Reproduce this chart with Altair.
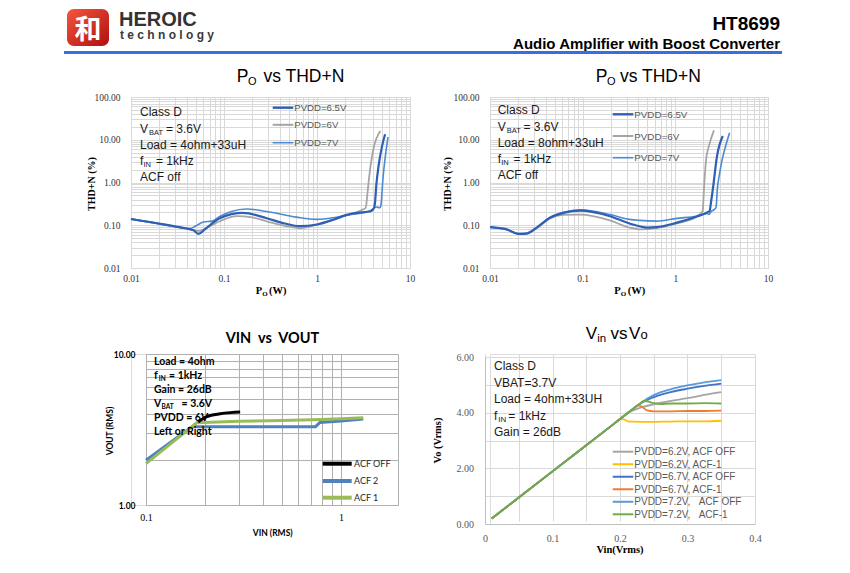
import altair as alt
import pandas as pd

SANS = "Liberation Sans"
SERIF = "Liberation Serif"
LATO = "Lato"
CJK = "Noto Sans CJK SC"

# ================= DATA =================
# Panel 1: PO vs THD+N, Load = 4ohm+33uH
p1_names = ["PVDD=6.5V", "PVDD=6V", "PVDD=7V"]
p1_x_6v = [0.01, 0.0223, 0.035, 0.047, 0.055, 0.07, 0.09, 0.137, 0.2, 0.288, 0.45, 0.66, 1.0, 1.5, 2.08, 3.0, 3.34, 3.5, 3.63, 4.0, 4.8]
p1_y_6v = [0.14, 0.104, 0.088, 0.077, 0.074, 0.095, 0.124, 0.163, 0.152, 0.124, 0.097, 0.085, 0.104, 0.135, 0.171, 0.225, 0.257, 0.6, 1.3, 5.45, 16.0]
p1_x_65v = [0.01, 0.0223, 0.035, 0.047, 0.053, 0.065, 0.09, 0.16, 0.288, 0.45, 0.65, 1.0, 1.5, 2.08, 3.0, 3.7, 4.0, 4.18, 4.35, 4.6, 5.0, 5.4]
p1_y_65v = [0.14, 0.105, 0.088, 0.076, 0.063, 0.087, 0.146, 0.195, 0.146, 0.11, 0.095, 0.104, 0.135, 0.175, 0.2, 0.21, 0.23, 0.3, 0.9, 2.5, 7.0, 13.4]
p1_x_7v = [0.01, 0.0223, 0.043, 0.05, 0.06, 0.075, 0.09, 0.12, 0.175, 0.288, 0.6, 0.99, 1.5, 2.08, 3.0, 3.7, 4.35, 4.73, 4.85, 5.13, 5.8]
p1_y_7v = [0.14, 0.105, 0.084, 0.097, 0.119, 0.125, 0.16, 0.21, 0.24, 0.21, 0.155, 0.137, 0.15, 0.171, 0.195, 0.215, 0.267, 0.257, 0.28, 1.3, 11.6]

# Panel 2: PO vs THD+N, Load = 8ohm+33uH
p2_x_6v = [0.01, 0.0151, 0.0202, 0.0249, 0.0319, 0.0444, 0.062, 0.094, 0.197, 0.32, 0.41, 0.63, 1.04, 1.71, 1.97, 2.05, 2.14, 2.3, 2.61]
p2_y_6v = [0.09, 0.08, 0.064, 0.064, 0.085, 0.145, 0.175, 0.178, 0.13, 0.088, 0.08, 0.086, 0.11, 0.16, 0.215, 0.9, 3.2, 7.0, 16.6]
p2_x_65v = [0.01, 0.0151, 0.0202, 0.0249, 0.0319, 0.0444, 0.062, 0.094, 0.197, 0.32, 0.5, 0.63, 1.04, 1.71, 2.0, 2.2, 2.34, 2.45, 2.58, 2.8, 3.25]
p2_y_65v = [0.09, 0.08, 0.063, 0.064, 0.088, 0.15, 0.195, 0.22, 0.163, 0.11, 0.088, 0.09, 0.115, 0.16, 0.18, 0.2, 0.215, 0.4, 0.91, 3.8, 12.2]
p2_x_7v = [0.01, 0.0151, 0.0202, 0.0249, 0.0319, 0.0444, 0.062, 0.094, 0.197, 0.32, 0.41, 0.63, 1.04, 1.71, 2.0, 2.19, 2.3, 2.44, 2.6, 2.75, 2.84, 3.0, 3.18, 3.45, 3.85]
p2_y_7v = [0.09, 0.08, 0.063, 0.065, 0.088, 0.152, 0.2, 0.23, 0.178, 0.137, 0.13, 0.125, 0.145, 0.165, 0.18, 0.19, 0.18, 0.21, 0.23, 0.26, 0.7, 1.6, 3.2, 6.5, 14.6]

# Panel 3: VIN vs VOUT
p3_names = ["ACF OFF", "ACF 2", "ACF 1"]
p3_x_acf2 = [0.1, 0.172, 0.19, 0.4, 0.74, 0.78, 1.0, 1.3]
p3_y_acf2 = [1.98, 3.3, 3.3, 3.3, 3.3, 3.52, 3.6, 3.71]
p3_x_acf1 = [0.1, 0.182, 0.3, 0.5, 0.8, 1.0, 1.3]
p3_y_acf1 = [1.88, 3.5, 3.58, 3.63, 3.68, 3.72, 3.78]
p3_x_off = [0.185, 0.205, 0.24, 0.27, 0.304]
p3_y_off = [3.55, 3.85, 4.02, 4.09, 4.13]

# Panel 4: Vin vs Vo
p4_names = ["PVDD=6.2V, ACF OFF", "PVDD=6.2V, ACF-1", "PVDD=6.7V, ACF OFF",
            "PVDD=6.7V, ACF-1", "PVDD=7.2V,\u00a0\u00a0\u00a0ACF OFF", "PVDD=7.2V,\u00a0\u00a0\u00a0ACF-1"]
p4_x_62off = [0.01, 0.1, 0.19, 0.2, 0.215, 0.23, 0.25, 0.275, 0.3, 0.325, 0.35]
p4_y_62off = [0.2, 1.89, 3.58, 3.77, 4.03, 4.18, 4.3, 4.42, 4.52, 4.64, 4.74]
p4_x_62acf = [0.01, 0.1, 0.19, 0.2, 0.205, 0.212, 0.22, 0.25, 0.275, 0.3, 0.325, 0.35]
p4_y_62acf = [0.2, 1.89, 3.58, 3.77, 3.76, 3.69, 3.68, 3.67, 3.68, 3.69, 3.69, 3.71]
p4_x_67off = [0.01, 0.1, 0.19, 0.2, 0.21, 0.22, 0.23, 0.24, 0.25, 0.275, 0.3, 0.325, 0.35]
p4_y_67off = [0.2, 1.89, 3.58, 3.77, 3.96, 4.15, 4.33, 4.46, 4.56, 4.74, 4.86, 4.96, 5.04]
p4_x_67acf = [0.01, 0.1, 0.19, 0.2, 0.21, 0.22, 0.226, 0.232, 0.24, 0.25, 0.275, 0.3, 0.325, 0.35]
p4_y_67acf = [0.2, 1.89, 3.58, 3.77, 3.96, 4.15, 4.26, 4.22, 4.08, 4.05, 4.05, 4.06, 4.06, 4.07]
p4_x_72off = [0.01, 0.1, 0.19, 0.2, 0.21, 0.22, 0.23, 0.24, 0.25, 0.275, 0.3, 0.325, 0.35]
p4_y_72off = [0.2, 1.89, 3.58, 3.77, 3.96, 4.15, 4.33, 4.5, 4.63, 4.84, 4.98, 5.09, 5.17]
p4_x_72acf = [0.01, 0.1, 0.19, 0.2, 0.21, 0.22, 0.23, 0.235, 0.24, 0.25, 0.26, 0.275, 0.3, 0.325, 0.35]
p4_y_72acf = [0.2, 1.89, 3.58, 3.77, 3.96, 4.15, 4.33, 4.42, 4.41, 4.34, 4.31, 4.33, 4.33, 4.34, 4.33]

# ================= HELPERS =================
def one():
    return pd.DataFrame({"k": [0]})


def text(s, x, y, o, size, font=SANS, weight="normal", color="#000000",
         align="left", baseline="alphabetic", angle=0):
    props = dict(align=align, baseline=baseline, fontSize=size, font=font,
                 fontWeight=weight, color=color)
    if angle:
        props["angle"] = angle
    return alt.Chart(pd.DataFrame({"t": [s]})).mark_text(**props).encode(
        text="t:N", x=alt.value(x - o[0]), y=alt.value(y - o[1]))


def hrule(x1, x2, y, o, color, width):
    return alt.Chart(one()).mark_rule(color=color, strokeWidth=width).encode(
        x=alt.value(x1 - o[0]), x2=alt.value(x2 - o[0]), y=alt.value(y - o[1]))


def series(xs, ys, color, width, X, Y, interp="monotone"):
    d = pd.DataFrame({"x": xs, "y": ys, "i": list(range(len(xs)))})
    return alt.Chart(d).mark_line(color=color, strokeWidth=width, interpolate=interp).encode(
        x=X, y=Y, order="i:Q")


def log_values(lo, hi):
    vals = []
    for e in range(lo, hi):
        for k in range(1, 10):
            vals.append(round(k * 10 ** e, 6))
    vals.append(round(10 ** hi, 6))
    return vals


GRID = "#d9d9d9"
EXPR_LOGX = "indexof(['0.01','0.1','1','10'], format(datum.value, '~g')) >= 0 ? format(datum.value, '~g') : ''"
EXPR_LOGY = "indexof(['0.01','0.1','1','10','100'], format(datum.value, '~g')) >= 0 ? format(datum.value, '.2f') : ''"


def thd_axes():
    ax = alt.Axis(values=log_values(-2, 1), labelExpr=EXPR_LOGX, grid=True, gridColor=GRID,
                  domain=False, ticks=False, tickSize=0, labelFont=SERIF, labelFontSize=9.5,
                  labelColor="#333333", labelPadding=5, labelFlush=False, labelOverlap=False, title=None)
    ay = alt.Axis(values=log_values(-2, 2), labelExpr=EXPR_LOGY, grid=True, gridColor=GRID,
                  domain=False, ticks=False, tickSize=0, labelFont=SERIF, labelFontSize=9.5,
                  labelColor="#333333", labelPadding=11, labelOverlap=False, title=None)
    X = alt.X("x:Q", scale=alt.Scale(type="log", domain=[0.01, 10], nice=False), axis=ax)
    Y = alt.Y("y:Q", scale=alt.Scale(type="log", domain=[0.01, 100], nice=False), axis=ay)
    return X, Y


C_65 = "#2f5fb3"
C_6 = "#a5a5a5"
C_7 = "#4a8ad4"

# ================= PANEL 1 =================
O1 = (131, 96)
X1, Y1 = thd_axes()
p1_layers = [
    series(p1_x_6v, p1_y_6v, C_6, 1.8, X1, Y1),
    series(p1_x_7v, p1_y_7v, C_7, 1.6, X1, Y1),
    series(p1_x_65v, p1_y_65v, C_65, 2.2, X1, Y1),
]
p1_layers += [
    text("P", 236.7, 80.7, O1, 17.5),
    text("O", 248.0, 83.5, O1, 11),
    text("vs THD+N", 263.5, 80.7, O1, 17.5),
]
ax_ = 140
p1_layers += [
    text("Class D", ax_, 115, O1, 12, color="#1a1a1a"),
    text("V", ax_, 131.5, O1, 12, color="#1a1a1a"),
    text("BAT", 149, 133.5, O1, 7.5, color="#1a1a1a"),
    text("= 3.6V", 166, 131.5, O1, 12, color="#1a1a1a"),
    text("Load = 4ohm+33uH", ax_, 147.5, O1, 12, color="#1a1a1a"),
    text("f", ax_, 163.5, O1, 12, color="#1a1a1a"),
    text("IN", 143.5, 165.5, O1, 7.5, color="#1a1a1a"),
    text("= 1kHz", 156, 163.5, O1, 12, color="#1a1a1a"),
    text("ACF off", ax_, 180, O1, 12, color="#1a1a1a"),
]
for nm, col, w, yy in zip(p1_names, [C_65, C_6, C_7], [2.4, 2.0, 1.6], [106.7, 123.8, 141.7]):
    p1_layers.append(hrule(272.7, 293.3, yy, O1, col, w))
    p1_layers.append(text(nm, 294.3, yy + 3.4, O1, 9.6, color="#595959"))
p1_layers += [
    text("THD+N (%)", 91.7, 183, O1, 10, font=SERIF, weight="bold", align="center", baseline="middle", angle=270),
    text("P", 255.7, 292.5, O1, 10.5, font=SERIF, weight="bold"),
    text("O", 262.2, 294.5, O1, 7, font=SERIF, weight="bold"),
    text("(W)", 269.0, 292.5, O1, 10.5, font=SERIF, weight="bold"),
]
# page header
grad = alt.LinearGradient(gradient="linear",
                          stops=[alt.GradientStop(color="#f5553f", offset=0),
                                 alt.GradientStop(color="#b0100d", offset=1)],
                          x1=0, x2=1, y1=0, y2=1)
p1_layers += [
    alt.Chart(one()).mark_rect(color=grad, cornerRadius=7).encode(
        x=alt.value(67 - O1[0]), x2=alt.value(109 - O1[0]), y=alt.value(8 - O1[1]), y2=alt.value(45 - O1[1])),
    text("和", 88, 38, O1, 27, font=CJK, weight="bold", color="#ffffff", align="center"),
    text("HEROIC", 119, 24.5, O1, 20, weight="bold", color="#333333"),
    text("t e c h n o l o g y", 120, 38, O1, 12, weight="bold", color="#3a3a3a"),
    text("HT8699", 780, 29, O1, 19, weight="bold", align="right"),
    text("Audio Amplifier with Boost Converter", 780, 48, O1, 15, weight="bold", align="right"),
    hrule(64, 782, 51.5, O1, "#3b6de0", 3),
]
p1 = alt.layer(*p1_layers).properties(width=279, height=171)

# ================= PANEL 2 =================
O2 = (490, 96)
X2, Y2 = thd_axes()
p2_layers = [
    series(p2_x_6v, p2_y_6v, C_6, 1.8, X2, Y2),
    series(p2_x_7v, p2_y_7v, C_7, 1.6, X2, Y2),
    series(p2_x_65v, p2_y_65v, C_65, 2.2, X2, Y2),
    text("P", 595.7, 80.7, O2, 17.5),
    text("O", 607.0, 83.5, O2, 11),
    text("vs THD+N", 620.0, 80.7, O2, 17.5),
]
bx = 497.7
p2_layers += [
    text("Class D", bx, 113.3, O2, 12, color="#1a1a1a"),
    text("V", bx, 130, O2, 12, color="#1a1a1a"),
    text("BAT", 506.7, 132, O2, 7.5, color="#1a1a1a"),
    text("= 3.6V", 523.5, 130, O2, 12, color="#1a1a1a"),
    text("Load = 8ohm+33uH", bx, 146, O2, 12, color="#1a1a1a"),
    text("f", bx, 161.7, O2, 12, color="#1a1a1a"),
    text("IN", 501.2, 163.7, O2, 7.5, color="#1a1a1a"),
    text("= 1kHz", 513.5, 161.7, O2, 12, color="#1a1a1a"),
    text("ACF off", bx, 178.3, O2, 12, color="#1a1a1a"),
]
for nm, col, w, yy in zip(p1_names, [C_65, C_6, C_7], [2.4, 2.0, 1.6], [113.3, 135, 156.7]):
    p2_layers.append(hrule(612.7, 633.3, yy, O2, col, w))
    p2_layers.append(text(nm, 634.3, yy + 3.5, O2, 9.8, color="#595959"))
p2_layers += [
    text("THD+N (%)", 448.3, 183, O2, 10, font=SERIF, weight="bold", align="center", baseline="middle", angle=270),
    text("P", 614.3, 292.5, O2, 10.5, font=SERIF, weight="bold"),
    text("O", 620.8, 294.5, O2, 7, font=SERIF, weight="bold"),
    text("(W)", 627.7, 292.5, O2, 10.5, font=SERIF, weight="bold"),
]
p2 = alt.layer(*p2_layers).properties(width=278, height=171)

# ================= PANEL 3 =================
O3 = (131, 353)
G3 = "#b0b0b0"
ax3x = alt.Axis(values=[0.1, 0.2, 0.3, 0.4, 0.5, 0.6, 0.7, 0.8, 0.9, 1.0, 1.96],
                labelExpr="datum.value == 0.1 || datum.value == 1 ? format(datum.value, '~g') : ''",
                grid=True, gridColor=G3, domain=False, ticks=False, tickSize=0,
                labelFont=SERIF, labelFontSize=10, labelColor="#000000", labelPadding=7,
                labelFlush=False, labelOverlap=False, title=None)
ax3y = alt.Axis(values=[1, 2, 3, 4, 5, 6, 7, 8, 9, 10],
                labelExpr="datum.value == 1 || datum.value == 10 ? format(datum.value, '.2f') : ''",
                grid=True, gridColor=G3, domain=False, ticks=False, tickSize=0, offset=-15,
                labelFont=LATO, labelFontWeight="bold", labelFontSize=8.5, labelColor="#000000",
                labelPadding=11, labelOverlap=False, title=None)
X3 = alt.X("x:Q", scale=alt.Scale(type="log", domain=[0.1, 1.96], range=[15, 267], nice=False), axis=ax3x)
Y3 = alt.Y("y:Q", scale=alt.Scale(type="log", domain=[1, 10], nice=False), axis=ax3y)
C_OFF, C_A2, C_A1 = "#000000", "#4f81bd", "#9bbb59"
p3_layers = [
    series(p3_x_acf2, p3_y_acf2, C_A2, 3, X3, Y3, interp="linear"),
    series(p3_x_acf1, p3_y_acf1, C_A1, 3, X3, Y3, interp="linear"),
    series(p3_x_off, p3_y_off, C_OFF, 3, X3, Y3),
    text("VIN\u00a0\u00a0vs\u00a0\u00a0VOUT", 272.5, 341.7, O3, 14.5, font=LATO, weight="bold", align="center"),
]
cx = 154
p3_layers += [
    text("Load = 4ohm", cx, 364, O3, 10.5, font=LATO, weight="bold"),
    text("f", cx, 377.5, O3, 10.5, font=LATO, weight="bold"),
    text("IN", 158.7, 379.5, O3, 6.5, font=LATO, weight="bold"),
    text("= 1kHz", 169, 377.5, O3, 10.5, font=LATO, weight="bold"),
    text("Gain = 26dB", cx, 391.5, O3, 10.5, font=LATO, weight="bold"),
    text("V", cx, 405.5, O3, 10.5, font=LATO, weight="bold"),
    text("BAT", 161.5, 407.5, O3, 6.5, font=LATO, weight="bold"),
    text("= 3.6V", 181.5, 405.5, O3, 10.5, font=LATO, weight="bold"),
    text("PVDD = 6V", cx, 419.5, O3, 10.5, font=LATO, weight="bold"),
    text("Left or Right", cx, 433.5, O3, 10.5, font=LATO, weight="bold"),
]
for nm, col, yy in zip(p3_names, [C_OFF, C_A2, C_A1], [462.7, 480, 496.7]):
    p3_layers.append(hrule(322.7, 351.7, yy, O3, col, 4))
    p3_layers.append(text(nm, 354, yy + 3.2, O3, 9, font=LATO, color="#262626"))
p3_layers += [
    text("VOUT (RMS)", 110, 430, O3, 8.5, font=LATO, weight="bold", align="center", baseline="middle", angle=270),
    text("VIN (RMS)", 272.7, 535.3, O3, 8.5, font=LATO, weight="bold", align="center"),
]
p3 = alt.layer(*p3_layers).properties(width=267, height=151)

# ================= PANEL 4 =================
O4 = (490, 353)
ax4x = alt.Axis(values=[round(k * 0.05, 2) for k in range(9)],
                labelExpr="indexof(['0','0.1','0.2','0.3','0.4'], format(datum.value, '~g')) >= 0 ? format(datum.value, '~g') : ''",
                grid=True, gridColor=GRID, domain=True, domainColor="#bfbfbf", ticks=False, tickSize=0,
                labelFont=SERIF, labelFontSize=10, labelColor="#595959", labelPadding=9,
                labelFlush=False, labelOverlap=False, title=None)
ax4y = alt.Axis(values=[0, 1, 2, 3, 4, 5, 6],
                labelExpr="datum.value % 2 == 0 ? format(datum.value, '.2f') : ''",
                grid=True, gridColor=GRID, domain=True, domainColor="#bfbfbf", ticks=False, tickSize=0,
                offset=5, labelFont=SERIF, labelFontSize=10, labelColor="#595959", labelPadding=11.5,
                labelOverlap=False, title=None)
X4 = alt.X("x:Q", scale=alt.Scale(domain=[0, 0.4], range=[-5, 265], nice=False, zero=False), axis=ax4x)
Y4 = alt.Y("y:Q", scale=alt.Scale(domain=[0, 6], range=[170, 3], nice=False), axis=ax4y)
p4_colors = ["#a5a5a5", "#ffc000", "#4472c4", "#ed7d31", "#5b9bd5", "#70ad47"]
p4_xs = [p4_x_62off, p4_x_62acf, p4_x_67off, p4_x_67acf, p4_x_72off, p4_x_72acf]
p4_ys = [p4_y_62off, p4_y_62acf, p4_y_67off, p4_y_67acf, p4_y_72off, p4_y_72acf]
p4_layers = [series(xs, ys, c, 1.8, X4, Y4) for xs, ys, c in zip(p4_xs, p4_ys, p4_colors)]
p4_layers += [
    text("V", 585.7, 338.3, O4, 17),
    text("in", 597.2, 341.0, O4, 11.5),
    text("vs", 610.5, 338.3, O4, 17),
    text("V", 629.0, 338.3, O4, 17),
    text("o", 640.5, 338.3, O4, 13),
]
dx = 494
p4_layers += [
    text("Class D", dx, 369, O4, 12, color="#1a1a1a"),
    text("VBAT=3.7V", dx, 385.5, O4, 12, color="#1a1a1a"),
    text("Load = 4ohm+33UH", dx, 402, O4, 12, color="#1a1a1a"),
    text("f", dx, 418.5, O4, 12, color="#1a1a1a"),
    text("IN", 498.3, 420.5, O4, 8, color="#1a1a1a"),
    text("= 1kHz", 508.3, 418.5, O4, 12, color="#1a1a1a"),
    text("Gain = 26dB", dx, 435, O4, 12, color="#1a1a1a"),
]
for k, (nm, col) in enumerate(zip(p4_names, p4_colors)):
    yy = 450.7 + 12.52 * k
    p4_layers.append(hrule(612.7, 633.3, yy, O4, col, 2))
    p4_layers.append(text(nm, 634.3, yy + 3.6, O4, 10, color="#595959"))
p4_layers += [
    text("Vo (Vrms)", 438.3, 439.5, O4, 10.5, font=SERIF, weight="bold", align="center", baseline="middle", angle=270),
    text("Vin(Vrms)", 620, 552, O4, 10.5, font=SERIF, weight="bold", align="center"),
]
p4 = alt.layer(*p4_layers).properties(width=265, height=170)

# ================= PAGE =================
chart = alt.concat(p1, p2, p3, p4, columns=2).properties(
    spacing={"row": 86, "column": 80},
    bounds="flush",
    align="all",
    padding={"left": 54, "top": 0, "right": 4, "bottom": 4},
).configure_view(strokeWidth=0).configure(background="white")

chart.save("out.html", embed_options={"renderer": "svg", "actions": False})
